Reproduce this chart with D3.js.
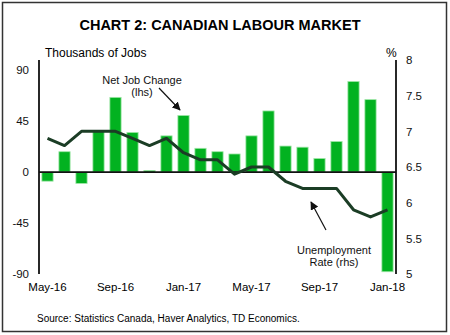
<!DOCTYPE html>
<html>
<head>
<meta charset="utf-8">
<script src="https://cdn.jsdelivr.net/npm/d3@7"></script>
<style>
  body { margin: 0; background: #fff; }
  svg { display: block; font-family: "Liberation Sans", Arial, sans-serif; }
</style>
</head>
<body>
<div id="chart"></div>
<script>
// monthly data, May-16 .. Jan-18
const months = ["May-16","Jun-16","Jul-16","Aug-16","Sep-16","Oct-16","Nov-16","Dec-16",
  "Jan-17","Feb-17","Mar-17","Apr-17","May-17","Jun-17","Jul-17","Aug-17",
  "Sep-17","Oct-17","Nov-17","Dec-17","Jan-18"];
const jobChange = [-8, 18, -10, 36, 66, 35, 1.5, 32, 50, 21, 18, 16, 32, 54, 23, 22, 12, 27, 80, 64, -88];
const unempRate = [6.9, 6.8, 7.0, 7.0, 7.0, 6.9, 6.8, 6.9, 6.7, 6.6, 6.6, 6.4, 6.5, 6.5, 6.3, 6.2, 6.2, 6.2, 5.9, 5.8, 5.9];
const leftTicks = [-90, -45, 0, 45, 90];
const rightTicks = [5, 5.5, 6, 6.5, 7, 7.5, 8];
const xLabels = ["May-16", "Sep-16", "Jan-17", "May-17", "Sep-17", "Jan-18"];

const width = 450, height = 335;
const plotL = 39, plotR = 396, plotT = 60, plotB = 274;

const svg = d3.select("#chart").append("svg")
  .attr("width", width)
  .attr("height", height);

// outer frame
svg.append("rect")
  .attr("x", 2.5).attr("y", 2.5)
  .attr("width", 444).attr("height", 329)
  .attr("fill", "none")
  .attr("stroke", "#333")
  .attr("stroke-width", 1.5);

svg.append("text")
  .attr("x", 220).attr("y", 30)
  .attr("text-anchor", "middle")
  .style("font-size", "14.5px")
  .style("font-weight", "bold")
  .text("CHART 2: CANADIAN LABOUR MARKET");

svg.append("text")
  .attr("x", 45).attr("y", 57)
  .style("font-size", "12px")
  .text("Thousands of Jobs");

svg.append("text")
  .attr("x", 386).attr("y", 57)
  .style("font-size", "12px")
  .text("%");

const x = d3.scaleBand().domain(months).range([plotL, plotR]).paddingInner(0.34).paddingOuter(0.17);
const yL = d3.scaleLinear().domain([-90, 99]).range([plotB, plotT]);
const yR = d3.scaleLinear().domain([5, 8]).range([plotB, plotT]);

// bars
svg.append("g").selectAll("rect")
  .data(months)
  .join("rect")
  .attr("x", d => x(d))
  .attr("width", x.bandwidth())
  .attr("y", (d, i) => yL(Math.max(0, jobChange[i])))
  .attr("height", (d, i) => Math.abs(yL(jobChange[i]) - yL(0)))
  .attr("fill", "#02b220")
  .attr("stroke", "#9ee6a6")
  .attr("stroke-width", 0.8);

// zero line
svg.append("line")
  .attr("x1", plotL).attr("x2", plotR)
  .attr("y1", yL(0)).attr("y2", yL(0))
  .attr("stroke", "#111")
  .attr("stroke-width", 1.8);

// unemployment rate line
const line = d3.line()
  .x((d, i) => x(months[i]) + x.bandwidth() / 2)
  .y(d => yR(d));

svg.append("path")
  .datum(unempRate)
  .attr("d", line)
  .attr("fill", "none")
  .attr("stroke", "#1b3d25")
  .attr("stroke-width", 3)
  .attr("stroke-linejoin", "round");

// axes (plain hyphen minus, no trailing .0)
const leftAxis = svg.append("g")
  .attr("transform", `translate(${plotL},0)`)
  .call(d3.axisLeft(yL).tickValues(leftTicks).tickSize(0).tickPadding(10).tickFormat(d => String(d)));
leftAxis.select(".domain").attr("stroke", "#111").attr("stroke-width", 1.8)
  .attr("d", `M0,${plotT}V${plotB}`);
leftAxis.selectAll("text").style("font-size", "11.5px").style("font-family", "Liberation Sans, Arial").attr("fill", "#111");

const rightAxis = svg.append("g")
  .attr("transform", `translate(${plotR},0)`)
  .call(d3.axisRight(yR).tickValues(rightTicks).tickSize(0).tickPadding(10).tickFormat(d => String(d)));
rightAxis.select(".domain").attr("stroke", "#111").attr("stroke-width", 1.8)
  .attr("d", `M0,${plotT}V${plotB}`);
rightAxis.selectAll("text").style("font-size", "11.5px").style("font-family", "Liberation Sans, Arial").attr("fill", "#111");

// x labels every 4 months
svg.append("g").selectAll("text")
  .data(xLabels)
  .join("text")
  .attr("x", d => x(d) + x.bandwidth() / 2)
  .attr("y", 291)
  .attr("text-anchor", "middle")
  .style("font-size", "11.5px")
  .text(d => d);

// annotations
svg.append("defs").append("marker")
  .attr("id", "arrow")
  .attr("viewBox", "0 0 10 10")
  .attr("refX", 9).attr("refY", 5)
  .attr("markerWidth", 7).attr("markerHeight", 7)
  .attr("orient", "auto")
  .append("path")
  .attr("d", "M0,0L10,5L0,10z")
  .attr("fill", "#111");

const note = svg.append("g").style("font-size", "11px").attr("text-anchor", "middle").attr("fill", "#111");
note.append("text").attr("x", 142).attr("y", 84).text("Net Job Change");
note.append("text").attr("x", 142).attr("y", 96).text("(lhs)");
note.append("text").attr("x", 334).attr("y", 254).text("Unemployment");
note.append("text").attr("x", 334).attr("y", 266).text("Rate (rhs)");

svg.append("line")
  .attr("x1", 159).attr("y1", 88).attr("x2", 180).attr("y2", 110)
  .attr("stroke", "#111").attr("stroke-width", 1.2)
  .attr("marker-end", "url(#arrow)");

svg.append("line")
  .attr("x1", 326).attr("y1", 230).attr("x2", 311).attr("y2", 202)
  .attr("stroke", "#111").attr("stroke-width", 1.2)
  .attr("marker-end", "url(#arrow)");

svg.append("text")
  .attr("x", 37).attr("y", 322)
  .style("font-size", "10px")
  .text("Source: Statistics Canada, Haver Analytics, TD Economics.");
</script>
</body>
</html>
